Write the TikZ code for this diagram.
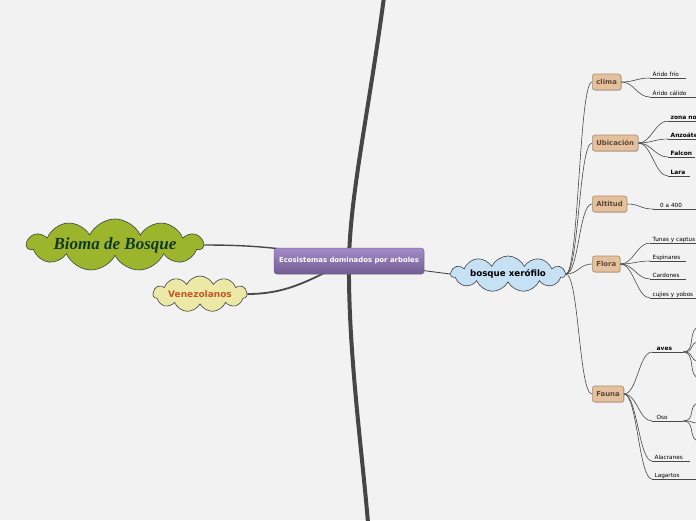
\documentclass[tikz,border=0pt]{standalone}
\usepackage{fontspec}
\setmainfont{DejaVu Sans}
\newfontfamily\biomafont{Liberation Serif}
\usetikzlibrary{shapes.symbols,shadows,backgrounds}

\definecolor{bgcol}{RGB}{242,242,242}
\definecolor{linkcol}{RGB}{72,72,72}
\definecolor{trunkcol}{RGB}{70,70,70}
\definecolor{biomafill}{RGB}{157,181,45}
\definecolor{biomatext}{RGB}{16,56,36}
\definecolor{venefill}{RGB}{236,232,166}
\definecolor{venetext}{RGB}{200,86,36}
\definecolor{bosquefill}{RGB}{198,224,244}
\definecolor{centraltop}{RGB}{163,139,199}
\definecolor{centralbot}{RGB}{116,94,148}
\definecolor{catfill}{RGB}{228,192,157}
\definecolor{catdraw}{RGB}{172,142,112}
\definecolor{cattext}{RGB}{92,72,58}

\tikzset{
  cloudnode/.style={cloud, cloud puffs=11, cloud puff arc=130, cloud ignores aspect,
    draw=black!75, line width=0.6pt, inner sep=0pt},
  catnode/.style={rectangle, rounded corners=2.5pt, draw=catdraw, line width=0.6pt,
    fill=catfill, text=cattext, anchor=west, minimum height=16pt, inner xsep=4pt,
    font=\fontsize{6.9}{8}\selectfont\bfseries,
    drop shadow={shadow xshift=0.8pt, shadow yshift=-0.8pt, opacity=0.35}},
  leaf/.style={anchor=south west, inner xsep=2.5pt, inner ysep=1.6pt, align=left,
    text width=#1, text depth=0pt, font=\fontsize{5.7}{6.5}\selectfont},
  boldleaf/.style={leaf=#1, font=\fontsize{5.9}{6.5}\selectfont\bfseries},
  link/.style={draw=linkcol, line width=0.6pt},
  branch/.style={link, out=0, in=180, distance=13pt},
}

\begin{document}
\begin{tikzpicture}[x=1pt, y=-1pt]
\useasboundingbox (0,0) rectangle (696,520);

% main topics
\node [rectangle, rounded corners=3pt, top color=centraltop, bottom color=centralbot,
  draw=centralbot!80!black, line width=0.3pt, minimum width=150pt, minimum height=26pt,
  text=white, font=\fontsize{6.9}{8}\selectfont\bfseries,
  drop shadow={shadow xshift=0.6pt, shadow yshift=-0.8pt, opacity=0.3}]
  (central) at (349,261) {Ecosistemas dominados por arboles};
\node [cloudnode, fill=biomafill, minimum width=176pt, minimum height=44pt,
  text=biomatext, font=\biomafont\fontsize{17}{19}\selectfont\bfseries\itshape]
  (bioma) at (115,245) {Bioma de Bosque};
\node [cloudnode, fill=venefill, minimum width=94pt, minimum height=36pt,
  text=venetext, font=\fontsize{9}{10}\selectfont\bfseries]
  (vene) at (200,294) {Venezolanos};
\node [cloudnode, fill=bosquefill, minimum width=114pt, minimum height=36pt,
  font=\fontsize{8.7}{10}\selectfont\bfseries]
  (bosque) at (508,274) {bosque xerófilo};

% categories
\node [catnode] (clima) at (592,82) {clima};
\node [catnode] (ubic) at (592,143) {Ubicación};
\node [catnode] (altitud) at (592,204) {Altitud};
\node [catnode] (flora) at (592,264) {Flora};
\node [catnode] (fauna) at (592,394) {Fauna};

% leaves
\node [leaf=31pt] (frio) at (650,78) {Árido frío};
\node [leaf=41pt] (calido) at (650,97) {Árido cálido};
\node [boldleaf=60pt] (norte) at (668,121) {zona norte};
\node [boldleaf=60pt] (anzo) at (668,139) {Anzoátegui};
\node [boldleaf=22pt] (falcon) at (668,157) {Falcon};
\node [boldleaf=17pt] (lara) at (668,176) {Lara};
\node [leaf=40pt, inner xsep=7pt] (alt) at (653,209) {0 a 400};
\node [leaf=60pt] (tunas) at (650,243) {Tunas y captus};
\node [leaf=31pt] (espin) at (650,261) {Espinares};
\node [leaf=31pt] (cardon) at (650,279) {Cardones};
\node [leaf=60pt] (cujies) at (650,298) {cujies y yobos};
\node [boldleaf=22pt, inner xsep=4.5pt] (aves) at (652,352) {aves};
\node [leaf=22pt, inner xsep=4.5pt] (oso) at (652,421) {Oso};
\node [leaf=33pt] (alacran) at (652,461) {Alacranes};
\node [leaf=39pt] (lagarto) at (652,479) {Lagartos};

% loose ends at the border
\coordinate (trunktop) at (384,-3);
\coordinate (trunkbot) at (368,523);
\coordinate (av1) at (700,327);
\coordinate (av2) at (700,342);
\coordinate (av3) at (700,361);
\coordinate (av4) at (700,378);
\coordinate (os1) at (700,403);
\coordinate (os2) at (700,423);
\coordinate (os3) at (700,441);

\begin{scope}[on background layer]
  \fill [bgcol] (0,0) rectangle (696,520);
  \draw [trunkcol, line width=4pt] (trunktop) .. controls (369,110) and (350,195) .. (central.center)
    .. controls (348,350) and (362,450) .. (trunkbot);
  \draw [linkcol, line width=1.4pt] (bioma.east) to[out=0, in=168] (central.center);
  \draw [linkcol, line width=1.8pt] (vene.east) to[out=0, in=205] (central.center);
  \draw [linkcol, line width=0.9pt] (central.center) -- (bosque.west);
\end{scope}

% branches
\foreach \c in {clima, ubic, altitud, flora, fauna}
  \draw [branch] (bosque.east) to (\c.west);
\foreach \l in {frio, calido}
  \draw [branch] (clima.east) to (\l.south west);
\foreach \l in {norte, anzo, falcon, lara}
  \draw [branch] (ubic.east) to (\l.south west);
\draw [branch] (altitud.east) to (alt.south west);
\foreach \l in {tunas, espin, cardon, cujies}
  \draw [branch] (flora.east) to (\l.south west);
\foreach \l in {aves, oso, alacran, lagarto}
  \draw [branch] (fauna.east) to (\l.south west);
\foreach \e in {av1, av2, av3, av4}
  \draw [branch] (aves.south east) to (\e);
\foreach \e in {os1, os2, os3}
  \draw [branch] (oso.south east) to (\e);

% underlines
\foreach \l in {frio, calido, norte, anzo, falcon, lara, alt, tunas, espin, cardon, cujies, aves, oso, alacran, lagarto}
  \draw [link] (\l.south west) -- (\l.south east);
\end{tikzpicture}
\end{document}
